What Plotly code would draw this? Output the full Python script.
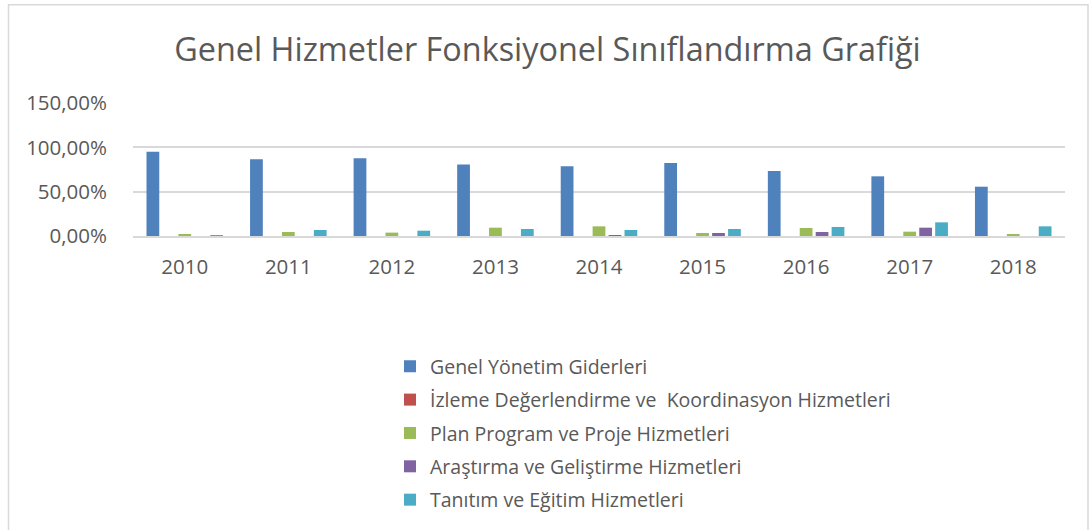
import plotly.graph_objects as go

years = ["2010", "2011", "2012", "2013", "2014", "2015", "2016", "2017", "2018"]
series_names = [
    "Genel Yönetim Giderleri",
    "İzleme Değerlendirme ve  Koordinasyon Hizmetleri",
    "Plan Program ve Proje Hizmetleri",
    "Araştırma ve Geliştirme Hizmetleri",
    "Tanıtım ve Eğitim Hizmetleri",
]
genel_yonetim = [95.1, 86.5, 87.6, 80.5, 78.6, 82.3, 73.3, 67.3, 55.6]
izleme = [0, 0, 0, 0, 0, 0, 0, 0, 0]
plan_program = [1.9, 4.5, 3.8, 9.4, 10.9, 3.4, 9.0, 4.9, 2.3]
arastirma = [0, 0, 0, 0, 0.5, 3.4, 4.5, 9.4, 0]
tanitim = [1.1, 6.8, 6.0, 7.9, 6.8, 7.9, 10.2, 15.4, 10.9]
colors = ["#4f81bd", "#c0504d", "#9bbb59", "#8064a2", "#4bacc6"]
tick_vals = [0, 50, 100, 150]
tick_text = ["0,00%", "50,00%", "100,00%", "150,00%"]

FONT = "Open Sans"
fig = go.Figure()
for i, (name, vals, col) in enumerate(zip(series_names,
                           [genel_yonetim, izleme, plan_program, arastirma, tanitim],
                           colors)):
    fig.add_trace(go.Bar(x=years, y=vals, name=name, marker_color=col,
                         marker_line_width=0, legendgroup=f"g{i}"))

L, R, T, B = 133, 25, 103, 293.5
W, H = 1090, 530
pw, ph = W - L - R, H - T - B

def px(x):
    return (x - L) / pw

def py(y):
    return (H - B - y) / ph

fig.update_layout(
    width=W, height=H,
    margin=dict(l=L, r=R, t=T, b=B, pad=0, autoexpand=False),
    paper_bgcolor="white", plot_bgcolor="white",
    barmode="group", bargap=0.23, bargroupgap=0.2,
    font=dict(family=FONT, color="#595959", size=17),
    title=dict(text="Genel Hizmetler Fonksiyonel Sınıflandırma Grafiği",
               x=547.5 / W, xanchor="center", xref="container",
               y=1 - 50 / H, yanchor="middle",
               font=dict(size=32.4, family=FONT, color="#595959")),
    xaxis=dict(showgrid=False, showline=True, linecolor="#d9d9d9", linewidth=1.5,
               ticks="", tickfont=dict(size=20.5), ticklabelstandoff=12,
               automargin=False),
    yaxis=dict(range=[0, 150], tickvals=tick_vals, ticktext=tick_text,
               showgrid=True, gridcolor="#d9d9d9", gridwidth=1.5,
               zeroline=False, showline=False, ticks="",
               tickfont=dict(size=20.5), ticklabelstandoff=25, automargin=False),
    legend=dict(orientation="v", x=px(390), y=py(348), xanchor="left", yanchor="top",
                font=dict(size=19.5, color="#595959"), itemwidth=30,
                tracegroupgap=5, bgcolor="rgba(0,0,0,0)"),
    shapes=[dict(type="rect", xref="paper", yref="paper",
                 x0=px(8.5), x1=px(1088), y0=py(4.5), y1=py(540),
                 line=dict(color="#d9d9d9", width=1.5), fillcolor="rgba(0,0,0,0)",
                 layer="below")],
)
fig.write_html("out.html", config={"displayModeBar": False},
               post_script="document.body.style.margin='0';document.body.style.overflow='hidden';")
